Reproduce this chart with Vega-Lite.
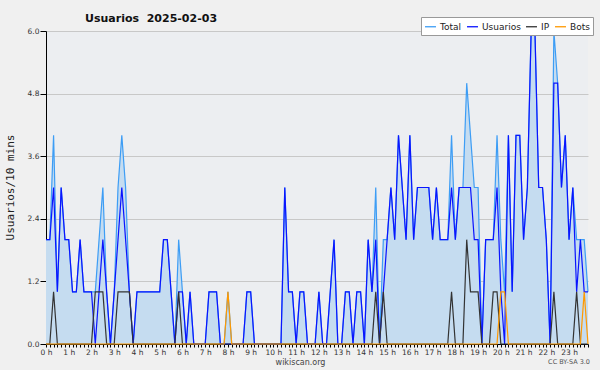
{
  "$schema": "https://vega.github.io/schema/vega-lite/v6.json",
  "width": 542,
  "height": 313,
  "autosize": {"type": "none"},
  "padding": {"left": 46, "top": 31, "right": 12, "bottom": 26},
  "background": "#f0f0f0",
  "view": {"fill": "#eceef1", "stroke": null},
  "title": {"text": "Usuarios\u00a0\u00a02025-02-03", "anchor": "start", "frame": "group", "dx": 39, "dy": 16, "offset": 9, "font": "DejaVu Sans", "fontSize": 11, "fontWeight": "bold", "color": "#111111"},
  "datasets": {
    "serie": [
    {"t":"00:00","Total":2,"Usuarios":2,"IP":0,"Bots":0},
    {"t":"00:10","Total":2,"Usuarios":2,"IP":0,"Bots":0},
    {"t":"00:20","Total":4,"Usuarios":3,"IP":1,"Bots":0},
    {"t":"00:30","Total":1,"Usuarios":1,"IP":0,"Bots":0},
    {"t":"00:40","Total":3,"Usuarios":3,"IP":0,"Bots":0},
    {"t":"00:50","Total":2,"Usuarios":2,"IP":0,"Bots":0},
    {"t":"01:00","Total":2,"Usuarios":2,"IP":0,"Bots":0},
    {"t":"01:10","Total":1,"Usuarios":1,"IP":0,"Bots":0},
    {"t":"01:20","Total":1,"Usuarios":1,"IP":0,"Bots":0},
    {"t":"01:30","Total":2,"Usuarios":2,"IP":0,"Bots":0},
    {"t":"01:40","Total":1,"Usuarios":1,"IP":0,"Bots":0},
    {"t":"01:50","Total":1,"Usuarios":1,"IP":0,"Bots":0},
    {"t":"02:00","Total":1,"Usuarios":1,"IP":0,"Bots":0},
    {"t":"02:10","Total":1,"Usuarios":0,"IP":1,"Bots":0},
    {"t":"02:20","Total":2,"Usuarios":1,"IP":1,"Bots":0},
    {"t":"02:30","Total":3,"Usuarios":2,"IP":1,"Bots":0},
    {"t":"02:40","Total":1,"Usuarios":1,"IP":0,"Bots":0},
    {"t":"02:50","Total":0,"Usuarios":0,"IP":0,"Bots":0},
    {"t":"03:00","Total":1,"Usuarios":1,"IP":0,"Bots":0},
    {"t":"03:10","Total":3,"Usuarios":2,"IP":1,"Bots":0},
    {"t":"03:20","Total":4,"Usuarios":3,"IP":1,"Bots":0},
    {"t":"03:30","Total":3,"Usuarios":2,"IP":1,"Bots":0},
    {"t":"03:40","Total":1,"Usuarios":1,"IP":1,"Bots":0},
    {"t":"03:50","Total":0,"Usuarios":0,"IP":0,"Bots":0},
    {"t":"04:00","Total":1,"Usuarios":1,"IP":0,"Bots":0},
    {"t":"04:10","Total":1,"Usuarios":1,"IP":0,"Bots":0},
    {"t":"04:20","Total":1,"Usuarios":1,"IP":0,"Bots":0},
    {"t":"04:30","Total":1,"Usuarios":1,"IP":0,"Bots":0},
    {"t":"04:40","Total":1,"Usuarios":1,"IP":0,"Bots":0},
    {"t":"04:50","Total":1,"Usuarios":1,"IP":0,"Bots":0},
    {"t":"05:00","Total":1,"Usuarios":1,"IP":0,"Bots":0},
    {"t":"05:10","Total":2,"Usuarios":2,"IP":0,"Bots":0},
    {"t":"05:20","Total":2,"Usuarios":2,"IP":0,"Bots":0},
    {"t":"05:30","Total":1,"Usuarios":1,"IP":0,"Bots":0},
    {"t":"05:40","Total":0,"Usuarios":0,"IP":0,"Bots":0},
    {"t":"05:50","Total":2,"Usuarios":1,"IP":1,"Bots":0},
    {"t":"06:00","Total":1,"Usuarios":1,"IP":0,"Bots":0},
    {"t":"06:10","Total":0,"Usuarios":0,"IP":0,"Bots":0},
    {"t":"06:20","Total":1,"Usuarios":1,"IP":0,"Bots":0},
    {"t":"06:30","Total":0,"Usuarios":0,"IP":0,"Bots":0},
    {"t":"06:40","Total":0,"Usuarios":0,"IP":0,"Bots":0},
    {"t":"06:50","Total":0,"Usuarios":0,"IP":0,"Bots":0},
    {"t":"07:00","Total":0,"Usuarios":0,"IP":0,"Bots":0},
    {"t":"07:10","Total":1,"Usuarios":1,"IP":0,"Bots":0},
    {"t":"07:20","Total":1,"Usuarios":1,"IP":0,"Bots":0},
    {"t":"07:30","Total":1,"Usuarios":1,"IP":0,"Bots":0},
    {"t":"07:40","Total":0,"Usuarios":0,"IP":0,"Bots":0},
    {"t":"07:50","Total":0,"Usuarios":0,"IP":0,"Bots":0},
    {"t":"08:00","Total":1,"Usuarios":0,"IP":0,"Bots":1},
    {"t":"08:10","Total":0,"Usuarios":0,"IP":0,"Bots":0},
    {"t":"08:20","Total":0,"Usuarios":0,"IP":0,"Bots":0},
    {"t":"08:30","Total":0,"Usuarios":0,"IP":0,"Bots":0},
    {"t":"08:40","Total":0,"Usuarios":0,"IP":0,"Bots":0},
    {"t":"08:50","Total":1,"Usuarios":1,"IP":0,"Bots":0},
    {"t":"09:00","Total":1,"Usuarios":1,"IP":0,"Bots":0},
    {"t":"09:10","Total":0,"Usuarios":0,"IP":0,"Bots":0},
    {"t":"09:20","Total":0,"Usuarios":0,"IP":0,"Bots":0},
    {"t":"09:30","Total":0,"Usuarios":0,"IP":0,"Bots":0},
    {"t":"09:40","Total":0,"Usuarios":0,"IP":0,"Bots":0},
    {"t":"09:50","Total":0,"Usuarios":0,"IP":0,"Bots":0},
    {"t":"10:00","Total":0,"Usuarios":0,"IP":0,"Bots":0},
    {"t":"10:10","Total":0,"Usuarios":0,"IP":0,"Bots":0},
    {"t":"10:20","Total":0,"Usuarios":0,"IP":0,"Bots":0},
    {"t":"10:30","Total":3,"Usuarios":3,"IP":0,"Bots":0},
    {"t":"10:40","Total":1,"Usuarios":1,"IP":0,"Bots":0},
    {"t":"10:50","Total":1,"Usuarios":1,"IP":0,"Bots":0},
    {"t":"11:00","Total":0,"Usuarios":0,"IP":0,"Bots":0},
    {"t":"11:10","Total":1,"Usuarios":1,"IP":0,"Bots":0},
    {"t":"11:20","Total":1,"Usuarios":1,"IP":0,"Bots":0},
    {"t":"11:30","Total":0,"Usuarios":0,"IP":0,"Bots":0},
    {"t":"11:40","Total":0,"Usuarios":0,"IP":0,"Bots":0},
    {"t":"11:50","Total":0,"Usuarios":0,"IP":0,"Bots":0},
    {"t":"12:00","Total":1,"Usuarios":1,"IP":0,"Bots":0},
    {"t":"12:10","Total":0,"Usuarios":0,"IP":0,"Bots":0},
    {"t":"12:20","Total":0,"Usuarios":0,"IP":0,"Bots":0},
    {"t":"12:30","Total":1,"Usuarios":1,"IP":0,"Bots":0},
    {"t":"12:40","Total":2,"Usuarios":2,"IP":0,"Bots":0},
    {"t":"12:50","Total":0,"Usuarios":0,"IP":0,"Bots":0},
    {"t":"13:00","Total":0,"Usuarios":0,"IP":0,"Bots":0},
    {"t":"13:10","Total":1,"Usuarios":1,"IP":0,"Bots":0},
    {"t":"13:20","Total":1,"Usuarios":1,"IP":0,"Bots":0},
    {"t":"13:30","Total":0,"Usuarios":0,"IP":0,"Bots":0},
    {"t":"13:40","Total":1,"Usuarios":1,"IP":0,"Bots":0},
    {"t":"13:50","Total":1,"Usuarios":1,"IP":0,"Bots":0},
    {"t":"14:00","Total":0,"Usuarios":0,"IP":0,"Bots":0},
    {"t":"14:10","Total":2,"Usuarios":2,"IP":0,"Bots":0},
    {"t":"14:20","Total":1,"Usuarios":1,"IP":0,"Bots":0},
    {"t":"14:30","Total":3,"Usuarios":2,"IP":1,"Bots":0},
    {"t":"14:40","Total":0,"Usuarios":0,"IP":0,"Bots":0},
    {"t":"14:50","Total":2,"Usuarios":1,"IP":1,"Bots":0},
    {"t":"15:00","Total":2,"Usuarios":2,"IP":0,"Bots":0},
    {"t":"15:10","Total":3,"Usuarios":3,"IP":0,"Bots":0},
    {"t":"15:20","Total":2,"Usuarios":2,"IP":0,"Bots":0},
    {"t":"15:30","Total":4,"Usuarios":4,"IP":0,"Bots":0},
    {"t":"15:40","Total":3,"Usuarios":3,"IP":0,"Bots":0},
    {"t":"15:50","Total":2,"Usuarios":2,"IP":0,"Bots":0},
    {"t":"16:00","Total":4,"Usuarios":4,"IP":0,"Bots":0},
    {"t":"16:10","Total":2,"Usuarios":2,"IP":0,"Bots":0},
    {"t":"16:20","Total":3,"Usuarios":3,"IP":0,"Bots":0},
    {"t":"16:30","Total":3,"Usuarios":3,"IP":0,"Bots":0},
    {"t":"16:40","Total":3,"Usuarios":3,"IP":0,"Bots":0},
    {"t":"16:50","Total":3,"Usuarios":3,"IP":0,"Bots":0},
    {"t":"17:00","Total":2,"Usuarios":2,"IP":0,"Bots":0},
    {"t":"17:10","Total":3,"Usuarios":3,"IP":0,"Bots":0},
    {"t":"17:20","Total":2,"Usuarios":2,"IP":0,"Bots":0},
    {"t":"17:30","Total":2,"Usuarios":2,"IP":0,"Bots":0},
    {"t":"17:40","Total":2,"Usuarios":2,"IP":0,"Bots":0},
    {"t":"17:50","Total":4,"Usuarios":3,"IP":1,"Bots":0},
    {"t":"18:00","Total":2,"Usuarios":2,"IP":0,"Bots":0},
    {"t":"18:10","Total":3,"Usuarios":3,"IP":0,"Bots":0},
    {"t":"18:20","Total":3,"Usuarios":3,"IP":0,"Bots":0},
    {"t":"18:30","Total":5,"Usuarios":3,"IP":2,"Bots":0},
    {"t":"18:40","Total":4,"Usuarios":3,"IP":1,"Bots":0},
    {"t":"18:50","Total":3,"Usuarios":2,"IP":1,"Bots":0},
    {"t":"19:00","Total":3,"Usuarios":2,"IP":1,"Bots":0},
    {"t":"19:10","Total":0,"Usuarios":0,"IP":0,"Bots":0},
    {"t":"19:20","Total":2,"Usuarios":2,"IP":0,"Bots":0},
    {"t":"19:30","Total":2,"Usuarios":2,"IP":0,"Bots":0},
    {"t":"19:40","Total":2,"Usuarios":2,"IP":1,"Bots":0},
    {"t":"19:50","Total":4,"Usuarios":3,"IP":1,"Bots":0},
    {"t":"20:00","Total":2,"Usuarios":1,"IP":0,"Bots":1},
    {"t":"20:10","Total":1,"Usuarios":0,"IP":0,"Bots":1},
    {"t":"20:20","Total":4,"Usuarios":4,"IP":0,"Bots":0},
    {"t":"20:30","Total":1,"Usuarios":1,"IP":0,"Bots":0},
    {"t":"20:40","Total":4,"Usuarios":4,"IP":0,"Bots":0},
    {"t":"20:50","Total":4,"Usuarios":4,"IP":0,"Bots":0},
    {"t":"21:00","Total":2,"Usuarios":2,"IP":0,"Bots":0},
    {"t":"21:10","Total":3,"Usuarios":3,"IP":0,"Bots":0},
    {"t":"21:20","Total":6,"Usuarios":6,"IP":0,"Bots":0},
    {"t":"21:30","Total":6,"Usuarios":6,"IP":0,"Bots":0},
    {"t":"21:40","Total":3,"Usuarios":3,"IP":0,"Bots":0},
    {"t":"21:50","Total":3,"Usuarios":3,"IP":0,"Bots":0},
    {"t":"22:00","Total":2,"Usuarios":2,"IP":0,"Bots":0},
    {"t":"22:10","Total":0,"Usuarios":0,"IP":0,"Bots":0},
    {"t":"22:20","Total":6,"Usuarios":5,"IP":1,"Bots":0},
    {"t":"22:30","Total":5,"Usuarios":5,"IP":0,"Bots":0},
    {"t":"22:40","Total":3,"Usuarios":3,"IP":0,"Bots":0},
    {"t":"22:50","Total":4,"Usuarios":4,"IP":0,"Bots":0},
    {"t":"23:00","Total":2,"Usuarios":2,"IP":0,"Bots":0},
    {"t":"23:10","Total":3,"Usuarios":3,"IP":0,"Bots":0},
    {"t":"23:20","Total":2,"Usuarios":1,"IP":1,"Bots":0},
    {"t":"23:30","Total":2,"Usuarios":2,"IP":0,"Bots":0},
    {"t":"23:40","Total":2,"Usuarios":1,"IP":0,"Bots":1},
    {"t":"23:50","Total":1,"Usuarios":1,"IP":0,"Bots":0}
    ],
    "nota": [{"t": "23:00", "v": 0, "label": "CC BY-SA 3.0"}]
  },
  "layer": [
    {
      "data": {"name": "serie"},
      "transform": [{"fold": ["Total", "Usuarios", "IP", "Bots"], "as": ["serie", "valor"]}],
      "encoding": {
        "x": {
          "field": "t", "type": "ordinal", "sort": null,
          "scale": {"type": "point", "padding": 0},
          "axis": {
            "title": "wikiscan.org",
            "titleFont": "DejaVu Sans", "titleFontSize": 8, "titleFontWeight": "normal", "titleColor": "#444444",
            "titleX": 254, "titleY": 14, "titleBaseline": "top", "titleAlign": "center",
            "labelExpr": "slice(datum.value, 3) == '00' ? parseInt(slice(datum.value, 0, 2)) + ' h' : ''",
            "labelAngle": 0, "labelOverlap": false, "labelFlush": false,
            "labelFont": "DejaVu Sans", "labelFontSize": 7.5, "labelColor": "#333333", "labelPadding": 1,
            "tickSize": 3, "tickColor": "#000000", "domainColor": "#000000", "grid": false
          }
        },
        "y": {
          "field": "valor", "type": "quantitative",
          "scale": {"domain": [0, 6], "nice": false, "zero": true},
          "axis": {
            "title": "Usuarios/10 mins",
            "titleFont": "DejaVu Sans Mono", "titleFontSize": 11, "titleFontWeight": "normal", "titleColor": "#222222",
            "titleX": -36, "titleY": 156, "titleAngle": 270, "titleAlign": "center", "titleBaseline": "middle",
            "values": [0, 0.3, 0.6, 0.9, 1.2, 1.5, 1.8, 2.1, 2.4, 2.7, 3.0, 3.3, 3.6, 3.9, 4.2, 4.5, 4.8, 5.1, 5.4, 5.7, 6.0],
            "format": ".1f",
            "labelExpr": "abs(datum.value / 1.2 - round(datum.value / 1.2)) < 0.01 ? datum.label : ''",
            "labelFont": "DejaVu Sans", "labelFontSize": 7.5, "labelColor": "#333333", "labelPadding": 1,
            "tickColor": "#000000", "domainColor": "#000000",
            "tickSize": {"condition": {"test": "abs(datum.value / 1.2 - round(datum.value / 1.2)) < 0.01", "value": 6}, "value": 3},
            "grid": true, "gridColor": "#c8c8c8",
            "gridOpacity": {"condition": {"test": "abs(datum.value / 1.2 - round(datum.value / 1.2)) < 0.01 && datum.value > 0.1", "value": 1}, "value": 0}
          }
        }
      },
      "layer": [
        {
          "transform": [{"filter": "datum.serie == 'Total'"}],
          "mark": {"type": "area", "color": "#c5dcf0", "opacity": 1}
        },
        {
          "mark": {"type": "line", "strokeWidth": 1.2},
          "encoding": {
            "color": {
              "field": "serie", "type": "nominal",
              "scale": {"domain": ["Total", "Usuarios", "IP", "Bots"], "range": ["#3d9df5", "#0a14ff", "#333333", "#ff9900"]},
              "legend": {
                "title": null, "orient": "none", "legendX": 375, "legendY": -14, "direction": "horizontal",
                "symbolType": "stroke", "symbolSize": 120, "symbolStrokeWidth": 1.3,
                "labelFont": "DejaVu Sans", "labelFontSize": 9, "labelColor": "#222222", "labelOffset": 3,
                "fillColor": "#ffffff", "strokeColor": "#999999", "padding": 3, "columnPadding": 2
              }
            }
          }
        }
      ]
    },
    {
      "data": {"name": "nota"},
      "mark": {"type": "text", "font": "DejaVu Sans", "fontSize": 6.5, "fill": "#555555", "align": "center", "baseline": "middle", "dy": 18},
      "encoding": {
        "x": {"field": "t", "type": "ordinal"},
        "y": {"field": "v", "type": "quantitative"},
        "text": {"field": "label", "type": "nominal"}
      }
    }
  ]
}
